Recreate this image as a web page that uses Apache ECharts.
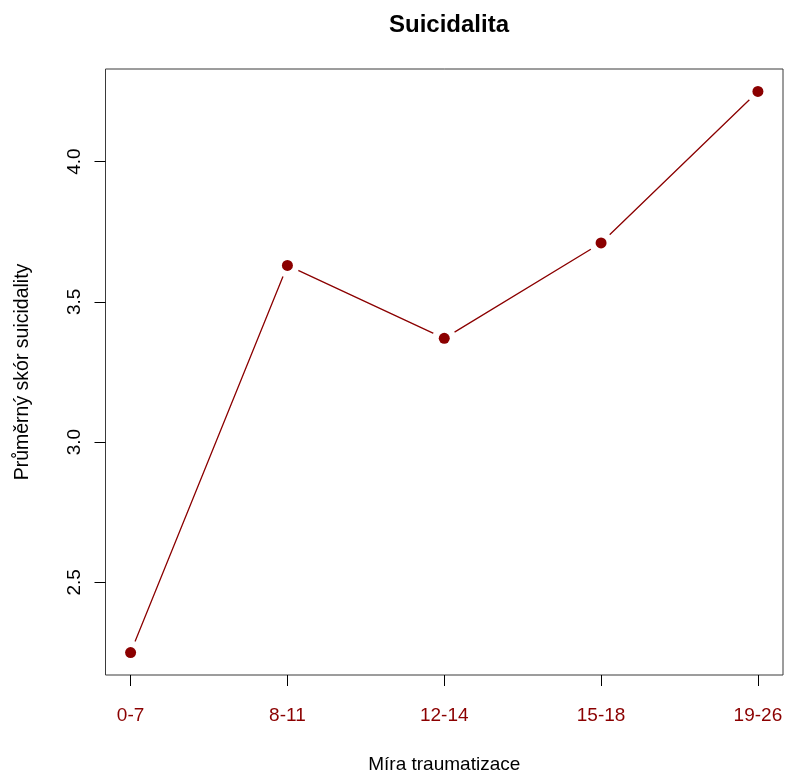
<!DOCTYPE html>
<html>
<head>
<meta charset="utf-8">
<script src="https://cdn.jsdelivr.net/npm/echarts@6/dist/echarts.min.js"></script>
<style>
  html, body { margin: 0; padding: 0; background: #fff; }
  #chart { width: 787px; height: 774px; }
</style>
</head>
<body>
<div id="chart"></div>
<script>
// Suicidality score by trauma level
const categories = ['0-7', '8-11', '12-14', '15-18', '19-26'];
const meanScores = [2.25, 3.63, 3.37, 3.71, 4.25];
const yTicks = [2.5, 3.0, 3.5, 4.0];

const FONT = '"Liberation Sans", Arial, Helvetica, sans-serif';
const RED = '#8B0000';

// x positions 1..n, padded by 4% of the range on each side
const xs = categories.map((c, i) => i + 1);
const xPad = (xs.length - 1) * 0.04;
const yMin = Math.min(...meanScores), yMax = Math.max(...meanScores);
const yPad = (yMax - yMin) * 0.04;

const points = meanScores.map((v, i) => [xs[i], v]);

const chart = echarts.init(document.getElementById('chart'), null, { renderer: 'canvas' });
chart.setOption({
  animation: false,
  backgroundColor: '#fff',
  title: {
    text: 'Suicidalita',
    left: 384,
    top: 8,
    textStyle: { fontFamily: FONT, fontSize: 24, fontWeight: 'bold', color: '#000' }
  },
  grid: {
    left: 105.5, right: 4, top: 69, bottom: 99,
    outerBoundsMode: 'none',
    containLabel: false,
    show: true, borderColor: '#3a3a3a', borderWidth: 1, backgroundColor: 'transparent'
  },
  xAxis: {
    type: 'value',
    min: xs[0] - xPad,
    max: xs[xs.length - 1] + xPad,
    name: 'Míra traumatizace',
    nameLocation: 'middle',
    nameGap: 80,
    nameTextStyle: { fontFamily: FONT, fontSize: 19, color: '#000' },
    axisLine: { show: false },
    splitLine: { show: false },
    axisTick: {
      show: true, inside: false, length: 11, customValues: xs,
      lineStyle: { color: '#000', width: 1 }
    },
    axisLabel: {
      customValues: xs,
      margin: 31,
      fontFamily: FONT, fontSize: 19, color: RED,
      formatter: v => categories[Math.round(v) - 1]
    }
  },
  yAxis: {
    type: 'value',
    min: yMin - yPad,
    max: yMax + yPad,
    name: 'Průměrný skór suicidality',
    nameLocation: 'middle',
    nameGap: 73,
    nameRotate: 90,
    nameTextStyle: { fontFamily: FONT, fontSize: 19.5, color: '#000' },
    axisLine: { show: false },
    splitLine: { show: false },
    axisTick: {
      show: true, inside: false, length: 11, customValues: yTicks,
      lineStyle: { color: '#000', width: 1 }
    },
    axisLabel: {
      customValues: yTicks,
      rotate: 90,
      margin: 21,
      fontFamily: FONT, fontSize: 19, color: '#000',
      formatter: v => v.toFixed(1)
    }
  },
  series: [
    {
      // connecting line; white discs leave the gaps around each point
      type: 'line',
      data: points,
      symbol: 'circle',
      symbolSize: 24,
      itemStyle: { color: '#fff', borderWidth: 0, opacity: 1 },
      lineStyle: { color: RED, width: 1.3 },
      z: 2,
      silent: true
    },
    {
      type: 'scatter',
      data: points,
      symbol: 'circle',
      symbolSize: 11,
      itemStyle: { color: RED, opacity: 1 },
      z: 3
    }
  ]
});
</script>
</body>
</html>
